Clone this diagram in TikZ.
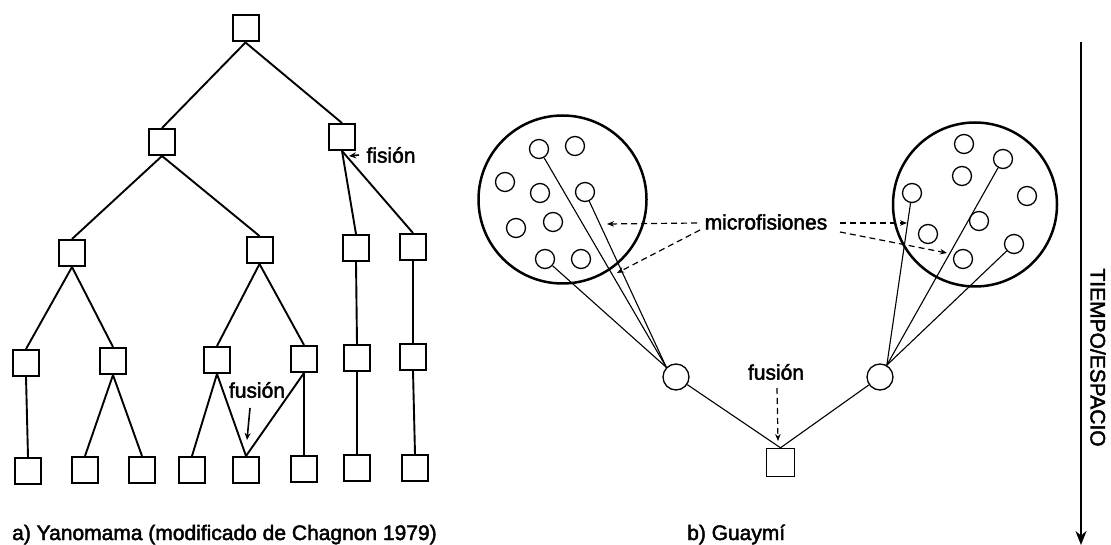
\documentclass[tikz,border=0pt]{standalone}
\usepackage{fontspec}
\setmainfont{Liberation Sans}
\newfontfamily\lblfont[FakeBold=2.2]{Liberation Sans}
\usetikzlibrary{arrows.meta}
\begin{document}
\begin{tikzpicture}[x=1pt,y=-1pt,
  sq/.style={draw,line width=2pt,minimum size=26pt,inner sep=0pt},
  tree/.style={line width=1.9pt},
  big/.style={draw,circle,line width=2.5pt,inner sep=0pt},
  sm/.style={draw,circle,line width=1.3pt,minimum size=19pt,inner sep=0pt},
  mid/.style={draw,circle,line width=1.3pt,minimum size=26pt,inner sep=0pt},
  gsq/.style={draw,line width=1.4pt,minimum size=28pt,inner sep=0pt},
  thin/.style={line width=1.1pt},
  lbl/.style={font=\lblfont\fontsize{21}{25}\selectfont,inner sep=0pt},
  dsh/.style={line width=1.2pt,dash pattern=on 6pt off 4pt,-{Stealth[length=7pt,width=5.5pt]}},
  sol/.style={line width=1.6pt,-{Stealth[length=7pt,width=6pt]}}
]
\useasboundingbox (0,0) rectangle (1111,545);
% ---------- left tree ----------
\node[sq] (t)  at (245.5,28.5) {};
\node[sq] (a)  at (162,142) {};
\node[sq] (b)  at (342,137) {};
\node[sq] (c)  at (72,253) {};
\node[sq] (d)  at (259.5,250) {};
\node[sq] (e)  at (356,248) {};
\node[sq] (f)  at (413,247) {};
\node[sq] (g)  at (26,363) {};
\node[sq] (h)  at (113,361) {};
\node[sq] (i)  at (217,360) {};
\node[sq] (j)  at (304,359) {};
\node[sq] (k)  at (357,358) {};
\node[sq] (l)  at (413,357) {};
\node[sq] (m)  at (28,471) {};
\node[sq] (n)  at (85,470) {};
\node[sq] (o)  at (142,470) {};
\node[sq] (p)  at (192,470) {};
\node[sq] (q)  at (246,470) {};
\node[sq] (r)  at (304,469) {};
\node[sq] (s)  at (357,468) {};
\node[sq] (u)  at (415,468) {};
\draw[tree] (t.south) -- (a.north);
\draw[tree] (t.south) -- (b.north);
\draw[tree] (a.south) -- (c.north);
\draw[tree] (a.south) -- (d.north);
\draw[tree] (b.south) -- (e.north);
\draw[tree] (b.south) -- (f.north);
\draw[tree] (c.south) -- (g.north);
\draw[tree] (c.south) -- (h.north);
\draw[tree] (d.south) -- (i.north);
\draw[tree] (d.south) -- (j.north);
\draw[tree] (e.south) -- (k.north);
\draw[tree] (f.south) -- (l.north);
\draw[tree] (g.south) -- (m.north);
\draw[tree] (h.south) -- (n.north);
\draw[tree] (h.south) -- (o.north);
\draw[tree] (i.south) -- (p.north);
\draw[tree] (i.south) -- (q.north);
\draw[tree] (j.south) -- (q.north);
\draw[tree] (j.south) -- (r.north);
\draw[tree] (k.south) -- (s.north);
\draw[tree] (l.south) -- (u.north);
\node[lbl] (fis) at (391,155) {fisión};
\coordinate (fisa) at (359,155);
\coordinate (fisb) at (349,156);
\draw[sol] (fisa) -- (fisb);
\node[lbl] (fus) at (257,390) {fusión};
\coordinate (fusa) at (250,408);
\coordinate (fusb) at (247,440);
\draw[sol] (fusa) -- (fusb);
\node[lbl,anchor=base west] (capa) at (12,540) {a) Yanomama (modificado de Chagnon 1979)};
% ---------- right panel ----------
\node[big,minimum size=168pt] (BL) at (562.5,199.5) {};
\node[big,minimum size=164pt] (BR) at (975,204.5) {};
\node[sm] (l1) at (539,149) {};
\node[sm] (l2) at (575,146) {};
\node[sm] (l3) at (505,182) {};
\node[sm] (l4) at (540,193) {};
\node[sm] (l5) at (585,192) {};
\node[sm] (l6) at (516,228) {};
\node[sm] (l7) at (553,222) {};
\node[sm] (l8) at (545,259) {};
\node[sm] (l9) at (581,259) {};
\node[sm] (r1) at (964,144) {};
\node[sm] (r2) at (1003,159) {};
\node[sm] (r3) at (962,176) {};
\node[sm] (r4) at (912,193) {};
\node[sm] (r5) at (1027,196) {};
\node[sm] (r6) at (979,221) {};
\node[sm] (r7) at (928,234) {};
\node[sm] (r8) at (1014,244) {};
\node[sm] (r9) at (963,259) {};
\node[mid] (mL) at (676,377) {};
\node[mid] (mR) at (880,377) {};
\node[gsq] (G) at (780.5,462.5) {};
\draw[thin] (l1) -- (mL.135);
\draw[thin] (l5) -- (mL.135);
\draw[thin] (l8) -- (mL.135);
\draw[thin] (r4) -- (mR.60);
\draw[thin] (r2) -- (mR.60);
\draw[thin] (r8) -- (mR.60);
\draw[thin] (mL) -- (G.north);
\draw[thin] (mR) -- (G.north);
\node[lbl] (mf) at (766,222) {microfisiones};
\coordinate (mfa) at (697,223);
\coordinate (mfb) at (700,230);
\coordinate (mfc) at (840,223);
\coordinate (mfd) at (840,232);
\coordinate (tga) at (607,224);
\coordinate (tgb) at (617,273);
\coordinate (tgc) at (907,223);
\coordinate (tgd) at (947,253);
\draw[dsh] (mfa) -- (tga);
\draw[dsh] (mfb) -- (tgb);
\draw[dsh] (mfc) -- (tgc);
\draw[dsh] (mfd) -- (tgd);
\node[lbl] (fus2) at (776,372) {fusión};
\coordinate (fua) at (777,388);
\coordinate (fub) at (778,441);
\draw[dsh] (fua) -- (fub);
\node[lbl,anchor=base west] (capb) at (687,540) {b) Guaymí};
% ---------- time axis ----------
\coordinate (ta) at (1081,42);
\coordinate (tb) at (1081,545);
\draw[line width=2.2pt,-{Stealth[length=14pt,width=11pt]}] (ta) -- (tb);
\node[lbl,rotate=-90] (tiempo) at (1098,357.5) {TIEMPO/ESPACIO};
\end{tikzpicture}
\end{document}
